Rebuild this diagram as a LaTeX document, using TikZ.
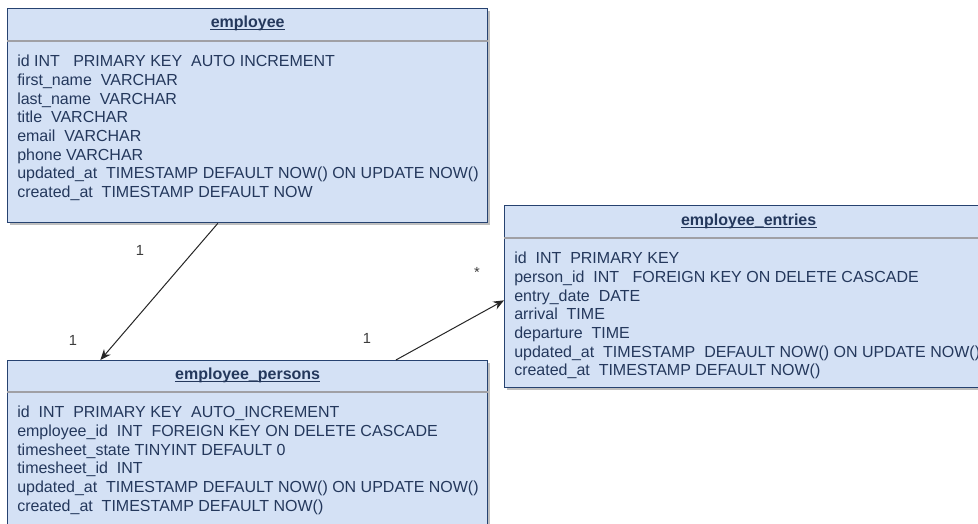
\documentclass[tikz,border=0pt]{standalone}
\usepackage{fontspec}
\setmainfont{Liberation Sans}
\usepackage{tikz}
\usetikzlibrary{arrows.meta, positioning, calc, shadows}
\definecolor{tablefill}{RGB}{212,225,245}
\definecolor{tableline}{RGB}{38,66,112}
\definecolor{tabletext}{RGB}{36,56,92}
\definecolor{rulegray}{RGB}{160,160,165}
\definecolor{multgray}{RGB}{60,60,60}
\tikzset{
  tablebox/.style={rectangle, draw=tableline, fill=tablefill, line width=1pt,
                   anchor=north west, inner sep=0pt,
                   drop shadow={shadow xshift=2pt, shadow yshift=-2pt,
                                fill=black, opacity=0.25}},
  tablehead/.style={font=\fontsize{12}{14}\selectfont\bfseries, text=tabletext,
                    inner sep=0pt},
  headline/.style={draw=tabletext, line width=0.8pt},
  tablebody/.style={anchor=north west, align=left, inner sep=0pt,
                    font=\fontsize{12}{14}\selectfont, text=tabletext},
  headrule/.style={draw=rulegray, line width=1.1pt},
  link/.style={-{Stealth[length=8pt,width=6.5pt]}, line width=0.75pt, color=black!85},
  mult/.style={font=\fontsize{11}{13}\selectfont, text=multgray, inner sep=0pt}
}

\begin{document}
\begin{tikzpicture}[x=0.75pt, y=-0.75pt]

  \clip (0,0) rectangle (978,524);
  \fill[white] (0,0) rectangle (978,524);

  %% -- employee --------------------------------------------------------------
  \node[tablebox, minimum width=360pt, minimum height=160.5pt] (employee) at (7,8) {};
  \node[tablehead] (employeehead) at ($(employee.north)+(0,15)$) {employee};
  \draw[headline] ([yshift=-1.6pt]employeehead.base west) -- ([yshift=-1.6pt]employeehead.base east);
  \draw[headrule] ($(employee.north west)+(0,33)$) -- ($(employee.north east)+(0,33)$);
  \node[tablebody] (employeecols) at ($(employee.north west)+(10,47)$)
        {id INT \ \ PRIMARY KEY \ AUTO INCREMENT\\
         first\_name \ VARCHAR\\
         last\_name \ VARCHAR\\
         title \ VARCHAR\\
         email \ VARCHAR\\
         phone VARCHAR\\
         updated\_at \ TIMESTAMP DEFAULT NOW() ON UPDATE NOW()\\
         created\_at \ TIMESTAMP DEFAULT NOW};

  %% -- employee_persons ------------------------------------------------------
  \node[tablebox, minimum width=360pt, minimum height=150pt] (persons) at (7,360) {};
  \node[tablehead] (personshead) at ($(persons.north)+(0,15)$) {employee\_persons};
  \draw[headline] ([yshift=-1.6pt]personshead.base west) -- ([yshift=-1.6pt]personshead.base east);
  \draw[headrule] ($(persons.north west)+(0,32)$) -- ($(persons.north east)+(0,32)$);
  \node[tablebody] (personscols) at ($(persons.north west)+(10,46)$)
        {id \ INT \ PRIMARY KEY \ AUTO\_INCREMENT\\
         employee\_id \ INT \ FOREIGN KEY ON DELETE CASCADE\\
         timesheet\_state TINYINT DEFAULT 0\\
         timesheet\_id \ INT\\
         updated\_at \ TIMESTAMP DEFAULT NOW() ON UPDATE NOW()\\
         created\_at \ TIMESTAMP DEFAULT NOW()};

  %% -- employee_entries ------------------------------------------------------
  \node[tablebox, minimum width=366pt, minimum height=136.5pt] (entries) at (504,205) {};
  \node[tablehead] (entrieshead) at ($(entries.north)+(0,16)$) {employee\_entries};
  \draw[headline] ([yshift=-1.6pt]entrieshead.base west) -- ([yshift=-1.6pt]entrieshead.base east);
  \draw[headrule] ($(entries.north west)+(0,33)$) -- ($(entries.north east)+(0,33)$);
  \node[tablebody] (entriescols) at ($(entries.north west)+(10,47)$)
        {id \ INT \ PRIMARY KEY\\
         person\_id \ INT \ \ FOREIGN KEY ON DELETE CASCADE\\
         entry\_date \ DATE\\
         arrival \ TIME\\
         departure \ TIME\\
         updated\_at \ TIMESTAMP \ DEFAULT NOW() ON UPDATE NOW()\\
         created\_at \ TIMESTAMP DEFAULT NOW()};

  %% -- relations -------------------------------------------------------------
  \draw[link] ($(employee.south west)!0.438!(employee.south east)$)
           -- ($(persons.north west)!0.194!(persons.north east)$);
  \draw[link] ($(persons.north west)!0.808!(persons.north east)$)
           -- ($(entries.north west)!0.52!(entries.south west)$);

  %% multiplicities
  \node[mult] (mult1) at (140,250) {1};
  \node[mult] (mult2) at (73,340) {1};
  \node[mult] (mult3) at (367,338) {1};
  \node[mult] (mult4) at (477,272) {*};

\end{tikzpicture}
\end{document}
